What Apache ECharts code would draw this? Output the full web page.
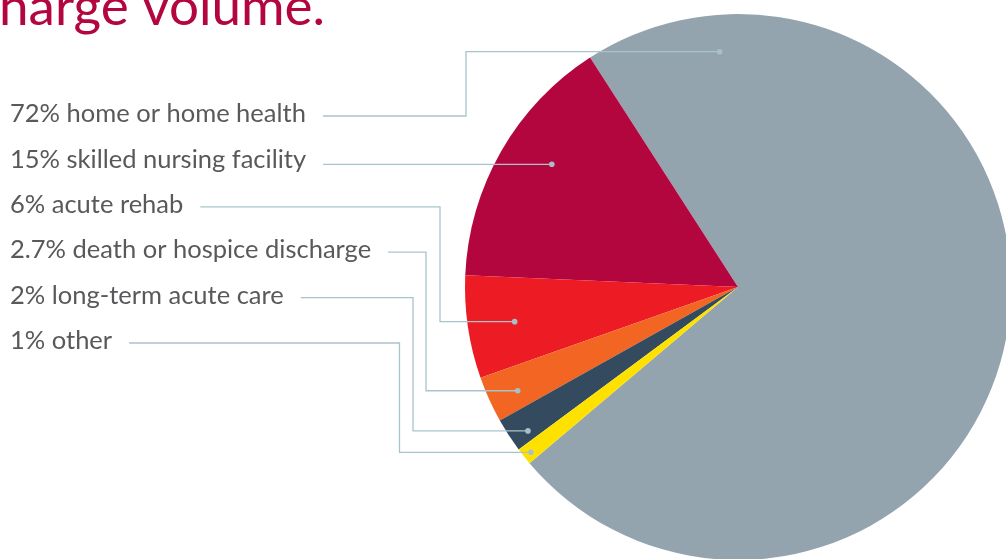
<!DOCTYPE html>
<html>
<head>
<meta charset="utf-8">
<script src="https://cdn.jsdelivr.net/npm/echarts@6/dist/echarts.min.js"></script>
<style>
html,body{margin:0;padding:0;background:#fff;}
#chart{width:1006px;height:559px;}
</style>
</head>
<body>
<div id="chart"></div>
<script>
// ---- data ----
const categories = ['home or home health', 'skilled nursing facility', 'acute rehab', 'death or hospice discharge', 'long-term acute care', 'other'];
const shares = [72, 15, 6, 2.7, 2, 1];
const shareLabels = ['72%', '15%', '6%', '2.7%', '2%', '1%'];
const colors = ['#94a4af', '#b3063f', '#ed1c24', '#f26522', '#344a5e', '#ffe100'];

// ---- layout ----
const CX = 738, CY = 287, R = 273;
const START = 220.2;             // degrees, slices run counter-clockwise
const labelX = 10, labelY0 = 114, labelStep = 45.4;
const anchorFrac = [0.892, 0.435, 0.516, 0.59, 0.707, 0.56]; // position inside slice (angle fraction)
const anchorRad = [236, 223, 226, 243.5, 254.6, 265];
const elbowX = [466, 470, 440, 426, 413, 399.5];
const lineColor = '#a9c3cb';
const labelFont = '25.5px Lato';

const chart = echarts.init(document.getElementById('chart'));
const total = shares.reduce((a, b) => a + b, 0);
const ctx = document.createElement('canvas').getContext('2d');
ctx.font = labelFont;

const graphics = [];
graphics.push({
  type: 'text', x: -1, y: 34,
  style: { text: 'harge volume.', font: '53px Lato', fill: '#b3063f', textVerticalAlign: 'bottom', textAlign: 'left' }
});

let acc = START;
categories.forEach((c, i) => {
  const span = shares[i] / total * 360;
  const ang = (acc + span * anchorFrac[i]) * Math.PI / 180;
  acc += span;
  const dx = CX + anchorRad[i] * Math.cos(ang);
  const dy = CY - anchorRad[i] * Math.sin(ang);
  const text = shareLabels[i] + ' ' + c;
  const ly = labelY0 + labelStep * i;
  const w = ctx.measureText(text).width;
  const sx = labelX + w + 17;
  const lineY = i === 1 ? dy : ly + 2;
  graphics.push({
    type: 'text', x: labelX, y: ly,
    style: { text: text, font: labelFont, fill: '#58595b', textVerticalAlign: 'middle', textAlign: 'left' }
  });
  graphics.push({
    type: 'polyline', z: 10,
    shape: { points: [[sx, lineY], [elbowX[i], lineY], [elbowX[i], dy], [dx, dy]] },
    style: { stroke: lineColor, lineWidth: 1.3, fill: null }
  });
  graphics.push({
    type: 'circle', z: 11,
    shape: { cx: dx, cy: dy, r: 2.8 },
    style: { fill: '#a9bfc7' }
  });
});

chart.setOption({
  animation: false,
  series: [{
    type: 'pie',
    center: [CX, CY],
    radius: R,
    startAngle: START,
    clockwise: false,
    label: { show: false },
    labelLine: { show: false },
    silent: true,
    data: categories.map((c, i) => ({ name: c, value: shares[i], itemStyle: { color: colors[i] } }))
  }],
  graphic: graphics
});
</script>
</body>
</html>
